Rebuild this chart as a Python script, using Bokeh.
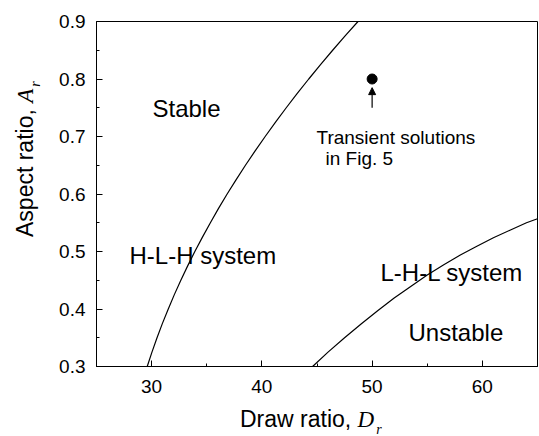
from bokeh.embed import file_html
from bokeh.layouts import column, row
from bokeh.models import (Arrow, ColumnDataSource, Div, FixedTicker, Label,
                          NormalHead, PrintfTickFormatter, Range1d)
from bokeh.plotting import figure
from bokeh.resources import INLINE

# Stability boundary of the H-L-H system: draw ratio D_r vs aspect ratio A_r
hlh_draw = [29.60, 30.03, 30.49, 30.98, 31.51, 32.06, 32.65, 33.27, 33.92,
            34.61, 35.33, 36.07, 36.85, 37.67, 38.51, 39.39, 40.30, 41.24,
            42.21, 43.21, 44.25, 45.32, 46.42, 47.55, 48.72]
hlh_aspect = [0.300, 0.325, 0.350, 0.375, 0.400, 0.425, 0.450, 0.475, 0.500,
              0.525, 0.550, 0.575, 0.600, 0.625, 0.650, 0.675, 0.700, 0.725,
              0.750, 0.775, 0.800, 0.825, 0.850, 0.875, 0.900]

# Stability boundary of the L-H-L system
lhl_draw = [44.6, 46.0, 47.5, 49.0, 50.5, 52.0, 53.5, 55.0, 56.5, 58.0,
            59.5, 61.0, 62.5, 64.0, 65.0]
lhl_aspect = [0.300, 0.325, 0.350, 0.374, 0.397, 0.419, 0.439, 0.459, 0.477,
              0.494, 0.509, 0.524, 0.537, 0.550, 0.557]

# Operating point whose transient solutions are shown in Fig. 5
point_draw = [50.0]
point_aspect = [0.80]

draw_ticks = [30, 40, 50, 60]
draw_minor = [25, 35, 45, 55, 65]
aspect_ticks = [0.3, 0.4, 0.5, 0.6, 0.7, 0.8, 0.9]
aspect_minor = [0.35, 0.45, 0.55, 0.65, 0.75, 0.85]

X0, X1 = 25, 65
Y0, Y1 = 0.3, 0.9

# Page geometry: a strip for the y title on the left, one for the x title below
W, H = 539, 436
YLAB_W, XLAB_H = 40, 34
PW, PH = W - YLAB_W, H - XLAB_H
LEFT, RIGHT, TOP, BOTTOM = 96, 2, 21, 70          # frame borders on the page
FW, FH = W - LEFT - RIGHT, H - TOP - BOTTOM

SANS = "Liberation Sans"
SERIF = "Liberation Serif"


def px(x):
    """Page pixel column -> data x."""
    return X0 + (x - LEFT) / FW * (X1 - X0)


def py(y):
    """Page pixel row -> data y."""
    return Y0 + (TOP + FH - y) / FH * (Y1 - Y0)


p = figure(width=PW, height=PH, x_range=Range1d(X0, X1), y_range=Range1d(Y0, Y1),
           output_backend="svg", toolbar_location=None,
           min_border_left=LEFT - YLAB_W, min_border_right=RIGHT,
           min_border_top=TOP, min_border_bottom=BOTTOM - XLAB_H, margin=0)
p.background_fill_color = "white"
p.border_fill_color = "white"
p.outline_line_color = "black"
p.outline_line_width = 1
p.xgrid.visible = False
p.ygrid.visible = False

p.xaxis.ticker = FixedTicker(ticks=draw_ticks, minor_ticks=draw_minor)
p.yaxis.ticker = FixedTicker(ticks=aspect_ticks, minor_ticks=aspect_minor)
p.yaxis.formatter = PrintfTickFormatter(format="%.1f")
for ax in (p.xaxis, p.yaxis):
    ax.axis_line_color = "black"
    ax.major_tick_line_color = "black"
    ax.minor_tick_line_color = "black"
    ax.major_tick_out = 0
    ax.major_tick_in = 6
    ax.minor_tick_out = 0
    ax.minor_tick_in = 3
    ax.major_label_text_font = SANS
    ax.major_label_text_font_size = "19px"
    ax.major_label_text_color = "black"
p.xaxis.major_label_standoff = 13
p.yaxis.major_label_standoff = 11

hlh = ColumnDataSource(dict(x=hlh_draw, y=hlh_aspect))
lhl = ColumnDataSource(dict(x=lhl_draw, y=lhl_aspect))
p.line("x", "y", source=hlh, line_color="black", line_width=1.2)
p.line("x", "y", source=lhl, line_color="black", line_width=1.2)

p.scatter(point_draw, point_aspect, size=10, marker="circle",
          fill_color="black", line_color="black")
p.add_layout(Arrow(end=NormalHead(size=7, fill_color="black", line_color="black"),
                   x_start=point_draw[0], y_start=point_aspect[0] - 0.05,
                   x_end=point_draw[0], y_end=point_aspect[0] - 0.015,
                   line_color="black", line_width=1.2))


def text(s, x, y, size):
    p.add_layout(Label(x=px(x), y=py(y), text=s, text_font=SANS,
                       text_font_size=f"{size}px", text_color="black",
                       text_align="left", text_baseline="alphabetic"))


# Region labels
text("Stable", 152, 108, 24)
text("H-L-H system", 129, 255, 24)
text("L-H-L system", 380, 272, 24)
text("Unstable", 408, 332, 24)
text("Transient solutions", 316, 137, 19)
text("in Fig. 5", 325, 158, 19)

# Axis titles: sans text followed by an italic serif symbol with subscript
ITAL = f"font-family:'{SERIF}'; font-style:italic;"
SUB = f"{ITAL} font-size:14px; position:relative; top:7px; margin-left:2px;"
BASE = (f"font-family:'{SANS}'; font-size:23px; line-height:26px; "
        "white-space:nowrap; color:black;")

x_title = Div(
    text=(f'<div style="{BASE} padding-left:240px; padding-top:4px;">'
          f'Draw ratio, <span style="{ITAL}">D</span>'
          f'<span style="{SUB}">r</span></div>'),
    width=W, height=XLAB_H, margin=0)

y_title = Div(
    text=(f'<div style="{BASE} width:220px; transform-origin:0 0; '
          f'transform:translate(12px, 237px) rotate(-90deg);">'
          f'Aspect ratio, <span style="{ITAL}">A</span>'
          f'<span style="{SUB}">r</span></div>'),
    width=YLAB_W, height=PH, margin=0)

page = column(row(y_title, p, spacing=0, margin=0), x_title, spacing=0, margin=0)

open("out.html", "w").write(file_html(page, INLINE))
